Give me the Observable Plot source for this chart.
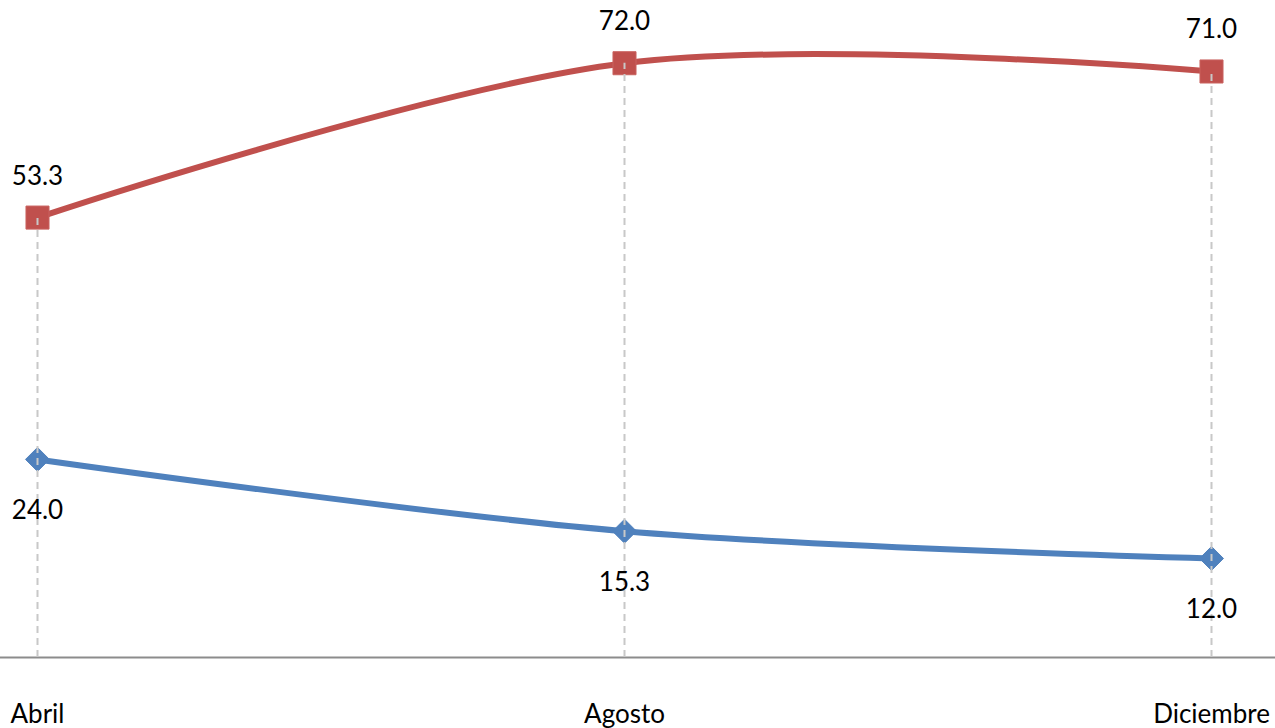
<!DOCTYPE html>
<html>
<head>
<meta charset="utf-8">
<script src="https://cdn.jsdelivr.net/npm/d3@7"></script>
<script src="https://cdn.jsdelivr.net/npm/@observablehq/plot@0.6"></script>
<style>
  html, body { margin: 0; padding: 0; background: #fff; }
  #chart svg { display: block; }
</style>
</head>
<body>
<div id="chart"></div>
<script>
const months = ["Abril", "Agosto", "Diciembre"];
const redValues = [53.3, 72.0, 71.0];
const blueValues = [24.0, 15.3, 12.0];

const red = months.map((m, i) => ({month: m, value: redValues[i]}));
const blue = months.map((m, i) => ({month: m, value: blueValues[i]}));
const drops = months.map((m, i) => ({month: m, top: Math.max(redValues[i], blueValues[i])}));

const RED = "#C0504D";
const BLUE = "#4F81BD";
const FONT = "Lato, 'Open Sans', sans-serif";

const chart = Plot.plot({
  width: 1275,
  height: 728,
  marginTop: 0,
  marginBottom: 71,
  marginLeft: 0,
  marginRight: 0,
  style: {fontFamily: FONT, background: "#fff"},
  x: {type: "point", domain: months, range: [37, 1211], padding: 0, axis: null},
  y: {domain: [0, 79.6], axis: null},
  marks: [
    Plot.ruleY([0], {stroke: "#8C8C8C", strokeWidth: 2}),
    Plot.line(red, {x: "month", y: "value", stroke: RED, strokeWidth: 6, curve: "cardinal"}),
    Plot.line(blue, {x: "month", y: "value", stroke: BLUE, strokeWidth: 6, curve: "cardinal"}),
    Plot.dot(red, {x: "month", y: "value", symbol: "square", r: 13, fill: RED, stroke: "#C9625F", strokeWidth: 1}),
    Plot.dot(blue, {x: "month", y: "value", symbol: "diamond2", r: 10.8, fill: BLUE, stroke: BLUE, strokeWidth: 1}),
    Plot.ruleX(drops, {x: "month", y1: 0, y2: "top", stroke: "#C8C8C8", strokeWidth: 2, strokeDasharray: "7,5"}),
    Plot.text(red, {x: "month", y: "value", text: d => d.value.toFixed(1), dy: -33, lineAnchor: "bottom", fontSize: 26, fill: "#000"}),
    Plot.text(blue, {x: "month", y: "value", text: d => d.value.toFixed(1), dy: 60, lineAnchor: "bottom", fontSize: 26, fill: "#000"}),
    Plot.text(months, {x: d => d, frameAnchor: "bottom", dy: 65, lineAnchor: "bottom", text: d => d, fontSize: 26, fill: "#000"})
  ]
});
document.getElementById("chart").appendChild(chart);
</script>
</body>
</html>
